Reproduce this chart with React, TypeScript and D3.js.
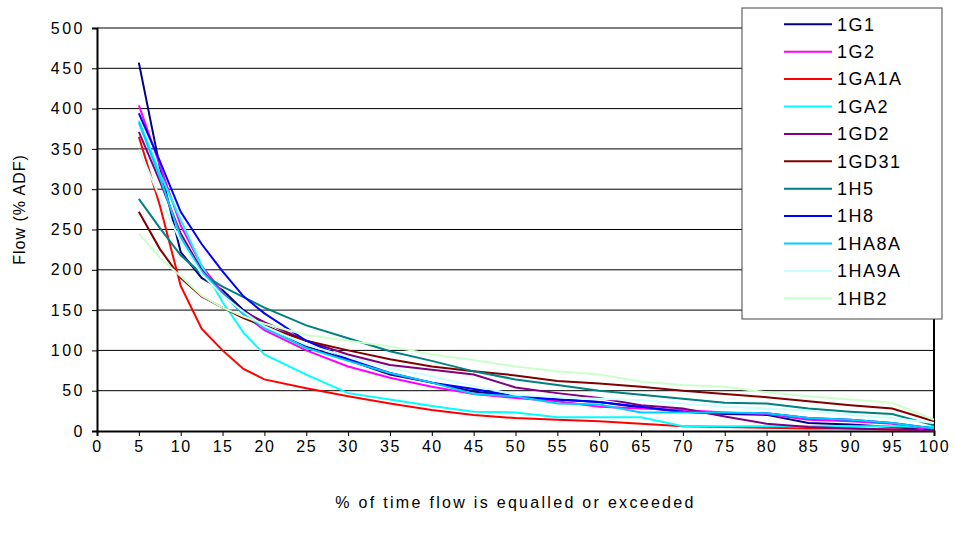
import React from 'react';
import * as d3 from 'd3';

const xs = [5, 7.5, 10, 12.5, 15, 17.5, 20, 25, 30, 35, 40, 45, 50, 55, 60, 65, 70, 75, 80, 85, 90, 95, 100];

const names = ['1G1', '1G2', '1GA1A', '1GA2', '1GD2', '1GD31', '1H5', '1H8', '1HA8A', '1HA9A', '1HB2'];
const colors = ['#000080', '#FF00FF', '#FF0000', '#00FFFF', '#800080', '#800000', '#008080', '#0000FF', '#00CCFF', '#CCFFFF', '#CCFFCC'];

const g1 = [457, 328, 222, 190, 175, 150, 132, 105, 88, 70, 60, 49, 43, 39, 36, 29, 24, 21, 20, 10, 8, 5, 1];
const g2 = [404, 330, 255, 205, 172, 145, 125, 100, 80, 66, 55, 46, 41, 37, 30, 28, 26, 23, 21, 14, 12, 9, 1];
const ga1a = [365, 280, 180, 127, 100, 77, 64, 53, 43, 34, 26, 20, 16, 14, 12, 9, 6, 5, 4, 3, 3, 2, 1];
const ga2 = [385, 320, 262, 205, 160, 122, 95, 70, 47, 39, 31, 24, 23, 17, 17, 17, 6, 6, 6, 6, 6, 6, 5];
const gd2 = [371, 310, 245, 200, 170, 148, 135, 112, 95, 82, 76, 70, 54, 47, 41, 32, 28, 18, 9, 5, 3, 2, 1];
const gd31 = [272, 226, 190, 167, 153, 140, 130, 112, 100, 89, 80, 74, 69, 62, 59, 55, 50, 46, 42, 37, 32, 28, 12];
const h5 = [288, 252, 218, 195, 179, 166, 153, 131, 115, 99, 87, 74, 64, 57, 50, 45, 40, 35, 34, 28, 24, 21, 7];
const h8 = [394, 335, 272, 232, 198, 167, 146, 112, 89, 72, 60, 52, 43, 39, 36, 30, 24, 22, 22, 16, 14, 10, 3];
const ha8a = [383, 315, 240, 198, 170, 145, 128, 103, 87, 72, 60, 46, 43, 34, 33, 23, 23, 23, 22, 16, 14, 10, 3];
const ha9a = [349, 290, 235, 195, 168, 148, 130, 107, 92, 78, 68, 56, 45, 42, 40, 38, 34, 30, 28, 25, 20, 16, 10];
const hb2 = [245, 215, 192, 168, 153, 142, 133, 119, 112, 105, 95, 88, 80, 74, 70, 61, 57, 55, 48, 43, 39, 35, 14];

const seriesValues = [g1, g2, ga1a, ga2, gd2, gd31, h5, h8, ha8a, ha9a, hb2];

const xTicks = d3.range(0, 101, 5);
const yTicks = d3.range(0, 501, 50);

const FONT = '"Liberation Sans", Arial, sans-serif';

const App = () => {
    const svgRef = React.useRef(null);

    const margin = { top: 28, right: 21, bottom: 111, left: 97 };
    const W = 955, H = 542;
    const width = W - margin.left - margin.right;
    const height = H - margin.top - margin.bottom;

    React.useEffect(() => {
        const svgEl = d3.select(svgRef.current);
        svgEl.selectAll("*").remove();

        const svg = svgEl.append('g')
            .attr('transform', `translate(${margin.left},${margin.top})`)
            .style('font-family', FONT);

        const x = d3.scaleLinear().range([0, width]).domain([0, 100]);
        const y = d3.scaleLinear().range([height, 0]).domain([0, 500]);

        // gridlines
        svg.append('g')
            .selectAll('line')
            .data(yTicks.filter(t => t > 0))
            .enter()
            .append('line')
            .attr('x1', 0).attr('x2', width)
            .attr('y1', d => y(d)).attr('y2', d => y(d))
            .attr('stroke', '#000').attr('stroke-width', 1);

        // right border
        svg.append('line')
            .attr('x1', width).attr('x2', width)
            .attr('y1', 0).attr('y2', height)
            .attr('stroke', '#000').attr('stroke-width', 2);

        // Y Axis
        const yAxis = svg.append('g')
            .call(d3.axisLeft(y).tickValues(yTicks).tickSize(5).tickPadding(7));
        yAxis.select('.domain').attr('stroke-width', 2);
        yAxis.selectAll('text')
            .style('font-size', '16px').style('font-family', FONT)
            .style('letter-spacing', '2.5px')
            .attr('fill', '#000');

        // X Axis
        const xAxis = svg.append('g')
            .attr('transform', `translate(0,${height})`)
            .call(d3.axisBottom(x).tickValues(xTicks).tickSize(5).tickPadding(5));
        xAxis.select('.domain').attr('stroke-width', 2);
        xAxis.selectAll('text')
            .style('font-size', '16px').style('font-family', FONT)
            .style('letter-spacing', '1.5px')
            .attr('fill', '#000');

        // lines
        const line = d3.line<number>()
            .x((d, i) => x(xs[i]))
            .y(d => y(d));

        seriesValues.forEach((vals, k) => {
            svg.append('path')
                .datum(vals)
                .attr('d', line)
                .attr('fill', 'none')
                .attr('stroke', colors[k])
                .attr('stroke-width', 2);
        });

        // axis titles
        svg.append('text')
            .attr('x', width / 2)
            .attr('y', height + 77)
            .style('text-anchor', 'middle')
            .style('font-size', '16px')
            .style('letter-spacing', '2.3px')
            .text('% of time flow is equalled or exceeded');

        svg.append('text')
            .attr('transform', 'rotate(-90)')
            .attr('x', -height / 2 + 20)
            .attr('y', -72)
            .style('text-anchor', 'middle')
            .style('font-size', '16px')
            .style('letter-spacing', '1px')
            .text('Flow (% ADF)');

        // legend
        const legend = svgEl.append('g')
            .attr('transform', 'translate(742,8)')
            .style('font-family', FONT);
        legend.append('rect')
            .attr('x', 0).attr('y', 0)
            .attr('width', 200).attr('height', 311)
            .attr('fill', '#fff')
            .attr('stroke', '#444').attr('stroke-width', 1);
        const items = legend.selectAll('g.item')
            .data(names)
            .enter()
            .append('g')
            .attr('transform', (d, i) => `translate(0,${16.3 + i * 27.4})`);
        items.append('line')
            .attr('x1', 42).attr('x2', 90)
            .attr('y1', 0).attr('y2', 0)
            .attr('stroke', (d, i) => colors[i])
            .attr('stroke-width', 2);
        items.append('text')
            .attr('x', 95)
            .attr('y', 0)
            .attr('dy', '0.35em')
            .style('font-size', '18px')
            .style('letter-spacing', '1.5px')
            .text(d => d);

    // eslint-disable-next-line react-hooks/exhaustive-deps
    }, []);

    return (
        <svg ref={svgRef} width={W} height={H}
            style={{ position: 'absolute', left: 0, top: 0, background: '#fff' }} />
    );
};

export default App;
